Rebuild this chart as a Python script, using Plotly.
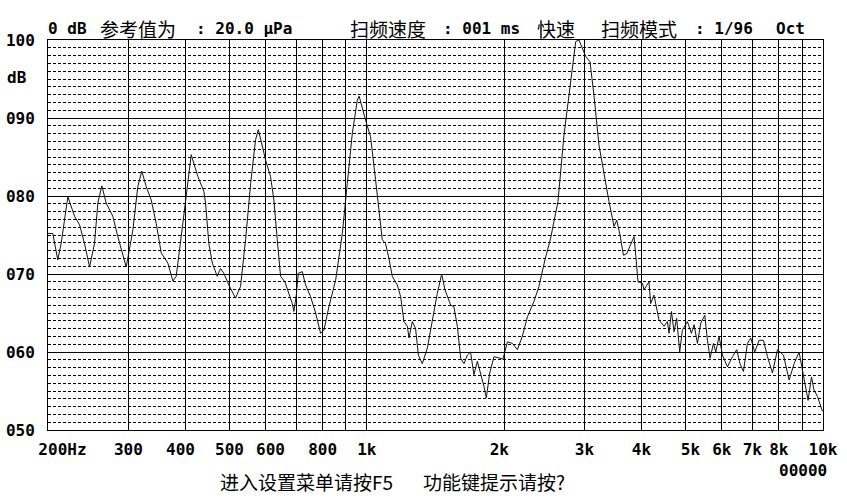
import plotly.graph_objects as go

# ---- data ----
freq_hz = [
    200, 204.9, 210.1, 213.7, 221.1, 223.1, 228.7, 234.6, 240.5, 246.7,
    252.9, 257.2, 262.5, 268.3, 277.4, 284.5, 296.8, 306.9, 314.7, 321.1,
    328.4, 336.7, 345.3, 354.2, 366.2, 375.6, 382.0, 391.8, 401.8, 412.1,
    417.5, 426.1, 439.2, 443.0, 450.4, 458.4, 469.9, 477.8, 485.8, 498.2,
    515.4, 528.6, 542.2, 556.2, 570.2, 578.2, 587.8, 599.8, 615.0, 625.4,
    636.2, 647.0, 661.2, 674.8, 686.4, 691.8, 700.4, 707.4, 722.0, 734.0,
    752.8, 772.2, 791.8, 805.2, 825.8, 854.2, 883.6, 906.0, 929.2, 953.0,
    962.0, 993.8, 1019, 1045, 1081, 1099, 1118, 1137, 1166, 1186,
    1206, 1227, 1237, 1258, 1279, 1297, 1323, 1357, 1392, 1427,
    1459, 1483, 1527, 1552, 1579, 1606, 1633, 1661, 1688, 1717,
    1747, 1776, 1806, 1828, 1859, 1900, 1948, 1988, 2033, 2085,
    2138, 2192, 2249, 2325, 2384, 2457, 2529, 2624, 2705, 2798,
    2870, 2918, 2968, 3018, 3085, 3147, 3228, 3311, 3395, 3482,
    3530, 3589, 3652, 3713, 3789, 3852, 3886, 3931, 4020, 4052,
    4154, 4190, 4260, 4370, 4482, 4560, 4597, 4654, 4714, 4778,
    4851, 4917, 5044, 5146, 5216, 5306, 5395, 5506, 5581, 5655,
    5753, 5820, 5918, 6020, 6173, 6331, 6471, 6578, 6693, 6828,
    6944, 7085, 7242, 7404, 7556, 7749, 7946, 8191, 8427, 8642,
    8863, 8985, 9122, 9275, 9436, 9560, 9725, 9974,
]
level_db = [
    75.2, 75.2, 71.8, 73.9, 79.9, 79.3, 77.4, 76.3, 73.9, 70.9,
    73.9, 79.1, 81.3, 79.1, 77.4, 74.8, 70.9, 75.6, 81.2, 83.2,
    81.2, 79.5, 76.5, 72.7, 71.4, 69.1, 69.7, 74.8, 80.3, 85.3,
    84.2, 82.5, 80.6, 79.1, 73.9, 71.4, 69.7, 70.7, 70.1, 68.6,
    66.9, 68.4, 74.4, 81.6, 87.2, 88.5, 86.8, 84.6, 82.5, 79.5,
    74.4, 69.7, 69.0, 67.5, 66.2, 65.2, 67.3, 70.1, 70.3, 68.6,
    67.1, 65.0, 62.4, 62.8, 65.8, 69.2, 75.2, 81.6, 88.0, 92.3,
    92.8, 89.7, 87.6, 82.1, 74.4, 73.9, 72.0, 69.7, 68.6, 67.1,
    63.9, 63.3, 61.8, 63.9, 63.0, 59.6, 58.5, 60.5, 64.1, 67.5,
    70.0, 68.0, 66.0, 65.8, 63.3, 59.2, 58.5, 59.6, 60.0, 57.1,
    58.8, 57.3, 55.6, 54.1, 57.3, 59.4, 59.2, 59.1, 61.3, 61.1,
    60.3, 62.0, 64.5, 66.5, 68.4, 71.8, 74.6, 79.3, 87.8, 95.1,
    99.8, 100.0, 98.9, 97.9, 97.2, 92.9, 86.5, 82.7, 79.3, 76.1,
    76.9, 75.0, 72.4, 72.6, 73.7, 74.8, 72.4, 69.0, 68.8, 68.0,
    69.0, 66.2, 67.3, 64.1, 63.3, 63.9, 62.4, 65.2, 62.6, 64.3,
    60.0, 62.8, 63.9, 62.4, 63.5, 61.1, 63.7, 64.7, 61.5, 59.2,
    61.1, 60.0, 62.0, 59.6, 58.1, 59.4, 60.3, 58.5, 57.5, 61.1,
    61.8, 60.0, 61.5, 61.5, 59.4, 57.3, 60.3, 59.6, 56.4, 58.5,
    60.0, 58.1, 56.0, 53.8, 56.8, 55.1, 54.3, 52.4,
]

NB = "\u00a0"
x_tick_vals = [200, 300, 400, 500, 600, 700, 800, 900, 1000,
               2000, 3000, 4000, 5000, 6000, 7000, 8000, 9000, 10000]
x_tick_text = [NB * 3 + "200Hz", "300", "400" + NB, "500", NB + "600", "", "800", "", "1k",
               "2k" + NB, "3k", "4k", NB + "5k", "6k", "7k", "8k", "", "10k"]
y_tick_vals = [50, 60, 70, 80, 90, 100]
y_tick_text = ["050", "060", "070", "080", "090", "100"]

# ---- layout geometry ----
W, H = 847, 499
L, R, T, B = 48, 24, 40, 69
PW, PH = W - L - R, H - T - B

def px(x):
    return (x - L) / PW

def py(y):
    return (H - B - y) / PH

MONO = dict(family="DejaVu Sans Mono", size=16, color="black", weight="bold")
CJK = dict(family="Noto Sans CJK SC", size=19, color="black")

fig = go.Figure()
fig.add_trace(go.Scatter(
    x=freq_hz, y=level_db, mode="lines",
    line=dict(color="#111111", width=1),
    hoverinfo="skip", showlegend=False,
))

fig.update_xaxes(
    type="log", range=[2.30103, 4.0],
    tickmode="array", tickvals=x_tick_vals, ticktext=x_tick_text,
    showgrid=True, gridcolor="black", gridwidth=1,
    showline=True, linecolor="black", linewidth=1, mirror=True,
    ticks="", ticklabelstandoff=5, tickfont=MONO, zeroline=False,
    automargin=False,
)
fig.update_yaxes(
    range=[50, 100],
    tickmode="array", tickvals=y_tick_vals, ticktext=y_tick_text,
    showgrid=True, gridcolor="black", gridwidth=1,
    minor=dict(tickmode="linear", tick0=50, dtick=1, showgrid=True,
               gridcolor="black", gridwidth=1, griddash="3px,2px", ticks=""),
    showline=True, linecolor="black", linewidth=1, mirror=True,
    ticks="", ticklabelstandoff=9, tickfont=MONO, zeroline=False,
    automargin=False,
)

annos = []
def add(text, x, y, font, xanchor="left"):
    annos.append(dict(text=text, x=px(x), y=py(y), xref="paper", yref="paper",
                      xanchor=xanchor, yanchor="middle", showarrow=False,
                      font=font, borderpad=0))

# header line
add("0 dB", 47, 28, MONO)
add("参考值为", 99, 28, CJK)
add(": 20.0 μPa", 195, 28, MONO)
add("扫频速度", 349, 28, CJK)
add(": 001 ms", 442, 28, MONO)
add("快速", 536, 28, CJK)
add("扫频模式", 600, 28, CJK)
add(": 1/96", 694, 28, MONO)
add("Oct", 775, 28, MONO)
# unit label
add("dB", 6, 77, MONO)
# footer
add("00000", 828, 470, MONO, xanchor="right")
add("进入设置菜单请按F5", 306, 481, CJK, xanchor="center")
add("功能键提示请按?", 422, 481, CJK)

fig.update_layout(
    width=W, height=H,
    margin=dict(l=L, r=R, t=T, b=B, pad=0, autoexpand=False),
    paper_bgcolor="white", plot_bgcolor="white",
    annotations=annos, showlegend=False,
)

fig.write_html("out.html",
               config={"displayModeBar": False, "staticPlot": True},
               post_script="document.body.style.margin='0px';document.body.style.overflow='hidden';")
